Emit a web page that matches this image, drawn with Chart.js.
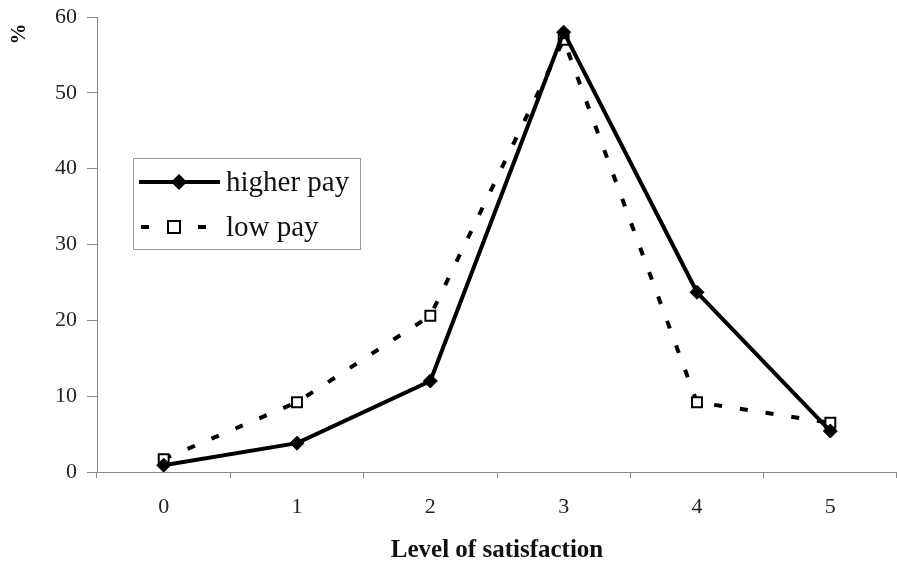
<!DOCTYPE html>
<html>
<head>
<meta charset="utf-8">
<script src="https://cdn.jsdelivr.net/npm/chart.js@4/dist/chart.umd.min.js"></script>
<style>
  html, body { margin: 0; padding: 0; background: #fff; }
  #wrap { width: 897px; height: 566px; }
</style>
</head>
<body>
<div id="wrap"><canvas id="myChart" width="897" height="566"></canvas></div>
<script>
// values
const levels = ['0', '1', '2', '3', '4', '5'];
const higherPay = [0.9, 3.8, 12, 58, 23.7, 5.4];
const lowPay = [1.7, 9.2, 20.6, 57, 9.2, 6.5];
const yTicks = [0, 10, 20, 30, 40, 50, 60];

const serif = '"Liberation Serif", "Times New Roman", serif';

// legend drawn inside the plot, like the original
const boxLegend = {
  id: 'boxLegend',
  afterDraw(chart) {
    const ctx = chart.ctx;
    ctx.save();
    ctx.strokeStyle = '#999';
    ctx.lineWidth = 1;
    ctx.strokeRect(133.5, 158.5, 227, 91);

    // higher pay
    ctx.strokeStyle = '#000';
    ctx.lineWidth = 4;
    ctx.setLineDash([]);
    ctx.beginPath(); ctx.moveTo(139, 182); ctx.lineTo(220, 182); ctx.stroke();
    ctx.fillStyle = '#000';
    ctx.beginPath();
    ctx.moveTo(179, 174); ctx.lineTo(187, 182); ctx.lineTo(179, 190); ctx.lineTo(171, 182);
    ctx.closePath(); ctx.fill();

    // low pay
    ctx.lineWidth = 4;
    ctx.beginPath(); ctx.moveTo(141, 227); ctx.lineTo(149, 227); ctx.stroke();
    ctx.beginPath(); ctx.moveTo(198, 227); ctx.lineTo(206, 227); ctx.stroke();
    ctx.lineWidth = 2;
    ctx.fillStyle = '#fff';
    ctx.fillRect(168, 221, 12, 12);
    ctx.strokeRect(168, 221, 12, 12);

    ctx.fillStyle = '#111';
    ctx.font = '29px ' + serif;
    ctx.textBaseline = 'middle';
    ctx.fillText('higher pay', 226, 183);
    ctx.fillText('low pay', 226, 228);

    // "%" axis label at the top
    ctx.translate(20, 34);
    ctx.rotate(-Math.PI / 2);
    ctx.font = 'bold 21px ' + serif;
    ctx.textAlign = 'center';
    ctx.textBaseline = 'middle';
    ctx.fillText('%', 0, 0);
    ctx.restore();
  }
};

new Chart('myChart', {
  type: 'line',
  data: {
    labels: levels,
    datasets: [{
      label: 'higher pay',
      data: higherPay,
      borderColor: '#000',
      backgroundColor: '#000',
      borderWidth: 4,
      pointStyle: 'rectRot',
      pointRadius: 7,
      pointBorderWidth: 1,
      tension: 0
    }, {
      label: 'low pay',
      data: lowPay,
      borderColor: '#000',
      backgroundColor: '#fff',
      borderWidth: 4,
      borderDash: [8, 18],
      pointStyle: 'rect',
      pointRadius: 7,
      pointBorderWidth: 2,
      tension: 0
    }]
  },
  options: {
    responsive: false,
    animation: false,
    layout: { autoPadding: false, padding: { top: 17, right: 0, left: 0, bottom: 0 } },
    plugins: {
      legend: { display: false },
      tooltip: { enabled: false }
    },
    scales: {
      x: {
        offset: true,
        grid: { drawOnChartArea: false, offset: true, tickLength: 6, color: '#888' },
        border: { color: '#888', width: 1 },
        ticks: { color: '#222', font: { family: serif, size: 22 }, padding: 16 },
        title: {
          display: true,
          text: 'Level of satisfaction',
          color: '#111',
          font: { family: serif, size: 25, weight: 'bold' },
          padding: { top: 0, bottom: 0 }
        },
        afterFit(scale) {
          scale.height = 94;
          scale.paddingLeft = 0;
          scale.paddingRight = 0;
        }
      },
      y: {
        min: 0,
        max: 60,
        afterBuildTicks(scale) { scale.ticks = yTicks.map(v => ({ value: v })); },
        grid: { drawOnChartArea: false, tickLength: 10, color: '#888' },
        border: { color: '#888', width: 1 },
        ticks: { color: '#222', font: { family: serif, size: 22 }, padding: 10 },
        afterFit(scale) {
          scale.width = 97;
          scale.paddingTop = 0;
          scale.paddingBottom = 0;
        }
      }
    }
  },
  plugins: [boxLegend]
});
</script>
</body>
</html>
